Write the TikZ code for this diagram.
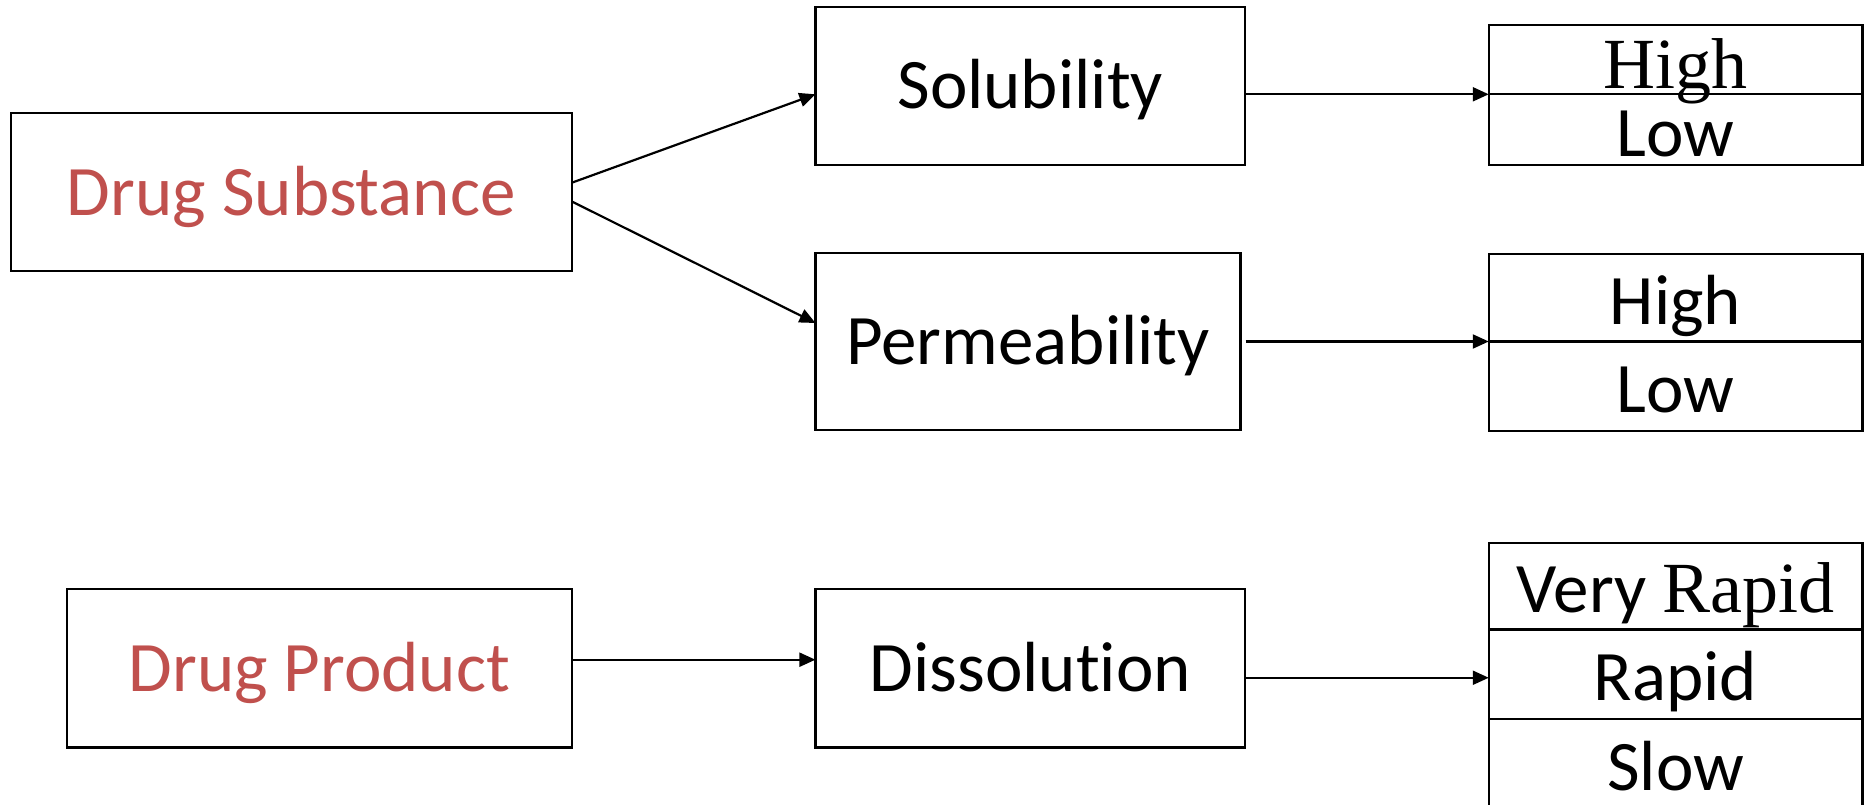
\documentclass[tikz,border=0pt]{standalone}
\usepackage{fontspec}
\setmainfont{Carlito}[RawFeature={-liga}]
\newfontfamily\tms{Liberation Serif}
\usetikzlibrary{arrows.meta}
\definecolor{accred}{HTML}{C0504D}
\begin{document}
\begin{tikzpicture}[x=1pt,y=-1pt,
  every node/.style={inner sep=0pt, outer sep=0pt},
  bigfont/.style={font=\fontsize{71}{85}\selectfont},
  box/.style={draw, line width=2.2pt, bigfont, text height=46pt, text depth=0pt},
  cell/.style={draw, line width=2.2pt, minimum width=373.7pt, bigfont, text height=53pt, text depth=0pt},
  arrow/.style={line width=2.2pt, -{Triangle[length=16pt,width=14pt]}},
  substtext/.style={text=accred}]
\clip (0,0) rectangle (1872,805);
\fill[white] (0,0) rectangle (1872,805);
% left boxes
\node[box, substtext, minimum width=561.2pt, minimum height=157.6pt] (ds) at (291.3,192.2) {Drug Substance};
\node[box, substtext, minimum width=505pt, minimum height=158.8pt] (dp) at (319.4,668) {Drug Product};
% middle boxes
\node[box, minimum width=429.8pt, minimum height=157.6pt] (sol) at (1030.3,86) {Solubility};
\node[box, minimum width=425pt, minimum height=176.8pt] (perm) at (1028,341.4) {Permeability};
\node[box, minimum width=429.8pt, minimum height=158.8pt] (dis) at (1030.3,668) {Dissolution};
% right cells
\node[cell, minimum height=69.3pt, font=\tms\fontsize{72}{86}\selectfont, text height=57pt] (h1) at (1675.6,59.65) {High};
\node[cell, minimum height=70.5pt] (l1) at (1675.6,129.55) {Low};
\node[cell, minimum height=87.2pt] (h2) at (1675.6,297.9) {High};
\node[cell, minimum height=89.5pt] (l2) at (1675.6,386.25) {Low};
\node[cell, minimum height=86.5pt] (vr) at (1675.6,586.25) {Very {\tms\fontsize{72}{86}\selectfont Rapid}};
\node[cell, minimum height=89.5pt] (r) at (1675.6,674.25) {Rapid};
\node[cell, minimum height=90pt] (s) at (1675.6,764) {Slow};
% connectors
\draw[arrow] ([yshift=9.5pt]ds.east) -- ([yshift=-8.3pt]sol.west);
\draw[arrow] ([yshift=-9.3pt]ds.east) -- ([yshift=18.4pt]perm.west);
\draw[arrow] (sol.east |- l1.north) -- (l1.north west);
\draw[arrow] ([xshift=5pt]perm.east |- l2.north) -- (l2.north west);
\draw[arrow] ([yshift=8.3pt]dp.east) -- ([yshift=8.3pt]dis.west);
\draw[arrow] ([yshift=-3.5pt]dis.east |- r.west) -- ([yshift=-3.5pt]r.west);
\end{tikzpicture}
\end{document}
